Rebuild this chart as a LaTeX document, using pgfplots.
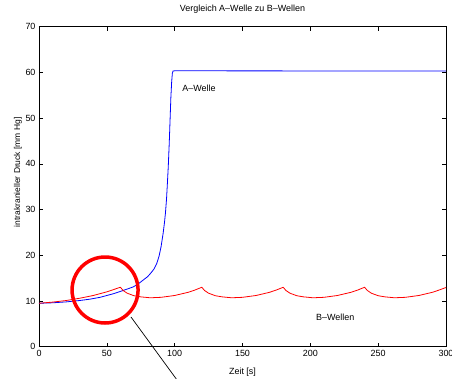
\documentclass[border=0pt]{standalone}
\usepackage{pgfplots}
\pgfplotsset{compat=1.18}
\usepackage{fontspec}
\setmainfont{Liberation Sans}
\begin{document}
\begin{tikzpicture}
\begin{axis}[name=ax, at={(0,0)}, anchor=south west,
  scale only axis, width=407bp, height=320bp,
  xmin=0, xmax=300, ymin=0, ymax=70,
  xtick={0,50,...,300}, ytick={0,10,...,70},
  tick align=inside, major tick length=4bp,
  tick style={black, line width=0.6pt},
  axis line style={line width=0.8pt},
  /pgf/number format/assume math mode=true,
  ticklabel style={font=\fontsize{9}{10}\selectfont},
  title={Vergleich A–Welle zu B–Wellen},
  title style={at={(axis description cs:0.5,1.0366)}, anchor=center, font=\fontsize{9}{10}\selectfont},
  xlabel={Zeit [s]},
  xlabel style={at={(axis description cs:0.5,-0.08)}, anchor=center, font=\fontsize{9}{10}\selectfont},
  ylabel={intrakranieller Druck [mm Hg]},
  ylabel style={at={(axis description cs:-0.0516,0.545)}, anchor=center, font=\fontsize{8.5}{10}\selectfont},
  clip=false,
]
\addplot[blue, line width=0.8pt] coordinates {
(0,9.5)(10,9.6)(20,9.8)(30,10.1)(37.6,10.4)(45,10.8)(50,11.2)(55,11.6)(60,12.1)(65,12.6)(69.6,13.1)(73,13.7)(76.9,14.6)(80,15.3)(82.4,16.1)(84.8,17.0)(86.8,18.2)(88.5,19.8)(90,21.9)(91.5,24.8)(92.5,27.2)(93.2,29.2)(94,32.3)(94.6,35.5)(95.3,39.5)(96,44.5)(96.6,49.5)(97.2,54.5)(97.8,58.0)(98.3,59.8)(98.8,60.3)(100,60.35)(300,60.3)
};
\addplot[red, line width=0.8pt] coordinates {
(0,9.5)(10,9.75)(20,10.1)(30,10.6)(40,11.2)(50,12.0)(60,13.0)
(62,12.3)(65,11.7)(70,11.15)(75,10.9)(82,10.7)(90,10.8)(100,11.2)(110,11.9)(115,12.4)(120,13.0)
(122,12.3)(125,11.7)(130,11.15)(135,10.9)(142,10.7)(150,10.8)(160,11.2)(170,11.9)(175,12.4)(180,13.0)
(182,12.3)(185,11.7)(190,11.15)(195,10.9)(202,10.7)(210,10.8)(220,11.2)(230,11.9)(235,12.4)(240,13.0)
(242,12.3)(245,11.7)(250,11.15)(255,10.9)(262,10.7)(270,10.8)(280,11.2)(290,11.9)(295,12.4)(300,12.95)
};
\node[font=\fontsize{9}{10}\selectfont] at (axis cs:118,56.6) {A–Welle};
\node[font=\fontsize{9}{10}\selectfont] at (axis cs:218.3,6.5) {B–Wellen};
\draw[red, line width=3.5bp] (axis cs:48.7,12.4) circle[radius=33bp];
\draw[black, line width=0.7pt] (axis cs:67.8,6.5) -- (axis cs:103.5,-8);
\end{axis}
\pgfresetboundingbox
\path[use as bounding box] ([shift={(-39bp,-32.3bp)}]ax.south west) rectangle ([shift={(6bp,26.7bp)}]ax.north east);
\end{tikzpicture}
\end{document}
